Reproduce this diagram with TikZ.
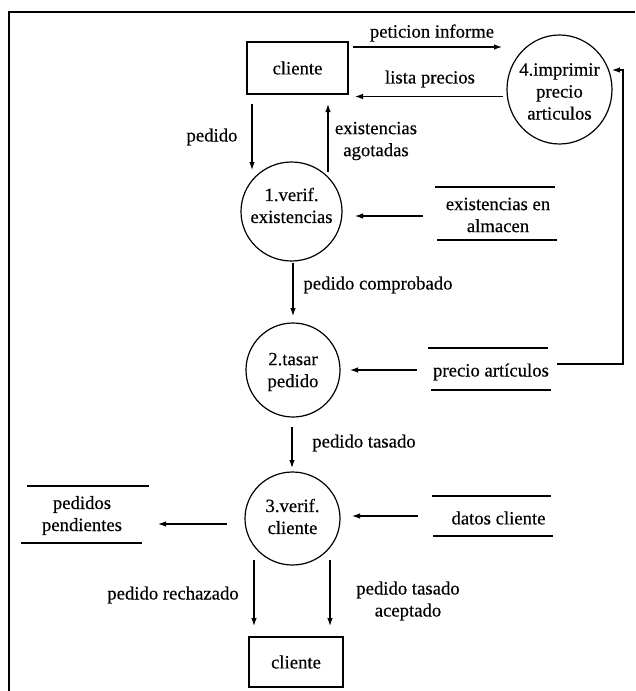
\documentclass[tikz,border=0pt]{standalone}
\usepackage{fontspec}
\setmainfont{Liberation Serif}[FakeBold=0.35]
\usetikzlibrary{shapes.geometric,arrows.meta,calc}
\begin{document}
\begin{tikzpicture}[x=1pt,y=-1pt,
  every node/.style={font=\fontsize{18.7}{22}\selectfont},
  ent/.style={draw, line width=1.2pt, inner sep=0},
  proc/.style={draw, ellipse, line width=1.2pt, inner sep=0},
  store/.style={inner sep=0, align=center},
  flow/.style={line width=1.1pt, -{Latex[length=8pt,width=5.5pt]}},
  lbl/.style={align=center, inner sep=0},
  sline/.style={line width=1.6pt},
  frame/.style={line width=1.3pt}
]
\useasboundingbox (0,0) rectangle (635,691);
\draw[frame] (635,12) -- (9,12) -- (9,691);

% entities
\node[ent, minimum width=101pt, minimum height=52pt] (c1) at (297.5,68) {cliente};
\node[ent, minimum width=94pt, minimum height=50pt] (c2) at (296,662) {cliente};

% processes
\node[proc, minimum width=105pt, minimum height=109pt,
  label={[lbl,yshift=-2pt]center:4.imprimir\\precio\\articulos}] (p4) at (559.5,89.5) {};
\node[proc, minimum width=101pt, minimum height=99pt,
  label={[lbl,yshift=6pt]center:1.verif.\\existencias}] (p1) at (291.5,211.5) {};
\node[proc, minimum width=94pt, minimum height=94pt,
  label={[lbl,yshift=-2pt]center:2.tasar\\pedido}] (p2) at (293,370) {};
\node[proc, minimum width=95pt, minimum height=93pt,
  label={[lbl,yshift=2pt]center:3.verif.\\cliente}] (p3) at (292.5,518.5) {};

% stores
\node[store] (s1) at (498,215) {existencias en\\almacen};
\draw[sline] ($(s1)+(-63,-28)$) -- ($(s1)+(57,-28)$);
\draw[sline] ($(s1)+(-61,25)$) -- ($(s1)+(59,25)$);

\node[store] (s2) at (491,372) {precio artículos};
\draw[sline] ($(s2)+(-63,-24)$) -- ($(s2)+(57,-24)$);
\draw[sline] ($(s2)+(-60,18)$) -- ($(s2)+(60,18)$);

\node[store] (s3) at (82,515.5) {pedidos\\pendientes};
\draw[sline] ($(s3)+(-55,-29.5)$) -- ($(s3)+(67,-29.5)$);
\draw[sline] ($(s3)+(-61,27.5)$) -- ($(s3)+(60,27.5)$);

\node[store] (s4) at (498.5,518) {datos cliente};
\draw[sline] ($(s4)+(-66.5,-22)$) -- ($(s4)+(52.5,-22)$);
\draw[sline] ($(s4)+(-65.5,18)$) -- ($(s4)+(54.5,18)$);

% flows
\draw[flow] ($(c1)+(55.5,-21)$) -- ($(p4)+(-57.5,-42.5)$);
\draw[flow] ($(p4)+(-56.5,7)$) -- ($(c1)+(57.5,28.5)$);
\draw[flow] ($(c1)+(-45.5,36)$) -- ($(p1)+(-39.5,-41.5)$);
\draw[flow] ($(p1)+(36.5,-39.5)$) -- ($(c1)+(30.5,36)$);
\draw[flow] ($(s1)+(-75,1)$) -- ($(p1)+(63.5,4.5)$);
\draw[flow] ($(p1)+(1.5,51.5)$) -- ($(p2)+(0,-54)$);
\draw[flow] ($(s2)+(-74,-2)$) -- ($(p2)+(57,0)$);
\draw[flow] ($(s2)+(66,-8)$) -- ++(66,0) |- ($(p4)+(52.5,-19.5)$);
\draw[flow] ($(p2)+(-1,57)$) -- ($(p3)+(-0.5,-50.5)$);
\draw[flow] ($(s4)+(-80.5,-2)$) -- ($(p3)+(59.5,-2.5)$);
\draw[flow] ($(p3)+(-65.5,5.5)$) -- ($(s3)+(76,8.5)$);
\draw[flow] ($(p3)+(-38.5,41.5)$) -- ($(c2)+(-42,-36)$);
\draw[flow] ($(p3)+(37.5,41.5)$) -- ($(c2)+(34,-36)$);

% flow labels
\node[lbl] (l1) at (432,33) {peticion informe};
\node[lbl] (l2) at (430,79) {lista precios};
\node[lbl] (l3) at (212,137) {pedido};
\node[lbl] (l4) at (376,141) {existencias\\agotadas};
\node[lbl] (l5) at (378,285) {pedido comprobado};
\node[lbl] (l6) at (364,443) {pedido tasado};
\node[lbl] (l7) at (173,595) {pedido rechazado};
\node[lbl] (l8) at (408,601) {pedido tasado\\aceptado};
\end{tikzpicture}
\end{document}
